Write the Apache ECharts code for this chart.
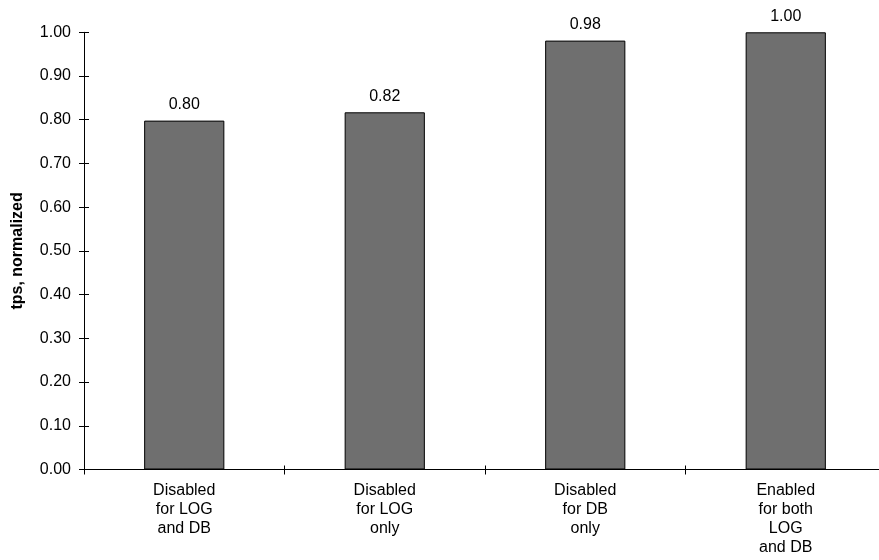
<!DOCTYPE html>
<html>
<head>
<meta charset="utf-8">
<script src="https://cdn.jsdelivr.net/npm/echarts@6/dist/echarts.min.js"></script>
<style>
html,body{margin:0;padding:0;background:#fff;overflow:hidden;width:879px;height:560px;}
#chart{width:900px;height:560px;}
</style>
</head>
<body>
<div id="chart"></div>
<script>
const categories = ['Disabled\nfor LOG\nand DB', 'Disabled\nfor LOG\nonly', 'Disabled\nfor DB\nonly', 'Enabled\nfor both\nLOG\nand DB'];
const values = [0.798, 0.817, 0.981, 1.0];
const yTitle = 'tps, normalized';

const FONT = '"Liberation Sans", Arial, sans-serif';
const FS = 16;
const chart = echarts.init(document.getElementById('chart'), null, {renderer: 'canvas'});
const yCommon = {
  type: 'value', min: 0, max: 1, interval: 0.1, position: 'left',
  splitLine: {show: false}
};
const xCommon = {type: 'category', data: categories, position: 'bottom', boundaryGap: true};
chart.setOption({
  animation: false,
  backgroundColor: '#ffffff',
  grid: {left: 84, top: 32.3, bottom: 90.5, width: 802, containLabel: false},
  xAxis: [
    Object.assign({}, xCommon, {
      axisLine: {lineStyle: {color: '#000', width: 1}},
      axisTick: {show: true, inside: false, length: 5, lineStyle: {color: '#000'}},
      axisLabel: {color: '#000', fontFamily: FONT, fontSize: FS, lineHeight: 19, margin: 12, interval: 0, align: 'center'}
    }),
    Object.assign({}, xCommon, {
      axisLine: {show: false},
      axisTick: {show: true, inside: true, length: 4, lineStyle: {color: '#000'}},
      axisLabel: {show: false}
    })
  ],
  yAxis: [
    Object.assign({}, yCommon, {
      name: yTitle, nameLocation: 'middle', nameGap: 58,
      nameTextStyle: {color: '#000', fontFamily: FONT, fontSize: FS, fontWeight: 'bold'},
      axisLine: {show: true, lineStyle: {color: '#000', width: 1}},
      axisTick: {show: true, inside: false, length: 5, lineStyle: {color: '#000'}},
      axisLabel: {color: '#000', fontFamily: FONT, fontSize: FS, margin: 13, formatter: v => v.toFixed(2)}
    }),
    Object.assign({}, yCommon, {
      axisLine: {show: false},
      axisTick: {show: true, inside: true, length: 5, lineStyle: {color: '#000'}},
      axisLabel: {show: false}
    })
  ],
  series: [{
    type: 'bar',
    xAxisIndex: 0, yAxisIndex: 0,
    data: values,
    barWidth: '40%',
    itemStyle: {color: '#6f6f6f', borderColor: '#000', borderWidth: 1},
    label: {show: true, position: 'top', distance: 8, color: '#000', fontFamily: FONT, fontSize: FS,
      formatter: p => p.value.toFixed(2)}
  }]
});
</script>
</body>
</html>
